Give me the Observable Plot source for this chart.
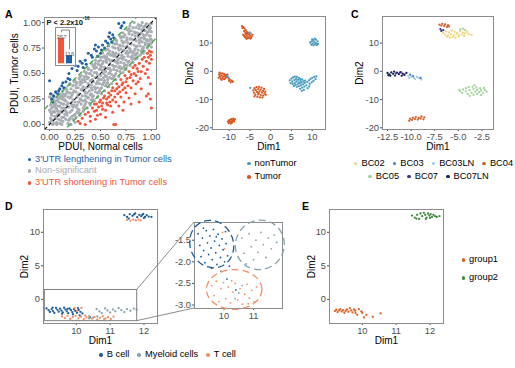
<!DOCTYPE html>
<html><head><meta charset="utf-8">
<script src="https://cdn.jsdelivr.net/npm/d3@7"></script>
<script src="https://cdn.jsdelivr.net/npm/@observablehq/plot@0.6"></script>
<style>
body{margin:0;background:#fff;}
#fig{position:relative;width:515px;height:368px;font-family:"Liberation Sans",Arial,Helvetica,sans-serif;overflow:hidden;background:#fff;}
.lab{position:absolute;font-weight:bold;font-size:10.5px;line-height:1;color:#000;}
.leg{position:absolute;display:flex;font-size:9.3px;line-height:1;white-space:nowrap;color:#000;}
.leg .it{display:flex;align-items:center;}
.leg .d{display:inline-block;width:3.6px;height:3.6px;border-radius:50%;margin-right:4px;}
.pv{position:absolute;font-weight:bold;font-size:7.5px;line-height:1;color:#111;white-space:nowrap;}
.pv sup{font-size:4.6px;position:relative;top:-1px;}
</style></head><body><div id="fig"></div>
<script>
// ---------------- Panel A data (PDUI) ----------------
const aDomain = [-0.05, 1.05];
const aTicks = [0, 0.25, 0.5, 0.75, 1];
const aCutoffs = [0.2, -0.2];
const aLegend = ["3'UTR lengthening in Tumor cells", "Non-significant", "3'UTR shortening in Tumor cells"];
const aColors = ["#1f5fa3", "#a8adb2", "#f2533a"];
const aGray = [
[0.00,0.02],[0.01,0.06],[0.02,0.11],[0.00,0.14],[0.01,0.19],[0.02,0.23],[0.00,0.27],[0.03,0.00],[0.02,0.09],
[0.03,0.04],[0.05,0.08],[0.04,0.13],[0.03,0.17],[0.05,0.21],[0.04,0.25],[0.04,0.01],[0.06,0.16],[0.03,0.29],
[0.07,0.02],[0.06,0.06],[0.08,0.10],[0.07,0.15],[0.06,0.20],[0.08,0.24],[0.07,0.27],[0.09,0.05],[0.06,0.31],
[0.10,0.01],[0.09,0.09],[0.11,0.13],[0.10,0.18],[0.09,0.22],[0.11,0.26],[0.10,0.30],[0.12,0.07],[0.11,0.21],
[0.13,0.03],[0.12,0.12],[0.14,0.16],[0.13,0.20],[0.12,0.25],[0.14,0.29],[0.13,0.33],[0.15,0.10],[0.12,0.00],[0.14,0.24],
[0.16,0.05],[0.15,0.14],[0.17,0.19],[0.16,0.23],[0.15,0.28],[0.17,0.32],[0.16,0.36],[0.18,0.01],[0.17,0.09],[0.18,0.27],
[0.19,0.04],[0.20,0.12],[0.19,0.17],[0.21,0.21],[0.20,0.26],[0.19,0.31],[0.21,0.35],[0.20,0.39],[0.22,0.08],[0.21,0.00],
[0.23,0.05],[0.22,0.14],[0.24,0.19],[0.23,0.24],[0.22,0.29],[0.24,0.33],[0.23,0.38],[0.25,0.10],[0.24,0.42],[0.25,0.02],
[0.26,0.07],[0.27,0.12],[0.26,0.17],[0.28,0.22],[0.27,0.27],[0.26,0.32],[0.28,0.36],[0.27,0.41],[0.29,0.45],[0.28,0.15],
[0.30,0.09],[0.29,0.14],[0.31,0.20],[0.30,0.25],[0.29,0.30],[0.31,0.34],[0.30,0.39],[0.32,0.44],[0.31,0.48],[0.32,0.28],
[0.33,0.13],[0.34,0.18],[0.33,0.23],[0.35,0.28],[0.34,0.33],[0.33,0.37],[0.35,0.42],[0.34,0.47],[0.36,0.51],[0.35,0.20],
[0.37,0.16],[0.36,0.22],[0.38,0.26],[0.37,0.31],[0.36,0.36],[0.38,0.40],[0.37,0.45],[0.39,0.50],[0.38,0.54],[0.39,0.33],
[0.40,0.19],[0.41,0.24],[0.40,0.29],[0.42,0.34],[0.41,0.39],[0.40,0.43],[0.42,0.48],[0.41,0.53],[0.43,0.57],[0.42,0.27],
[0.44,0.23],[0.43,0.28],[0.45,0.32],[0.44,0.37],[0.43,0.42],[0.45,0.46],[0.44,0.51],[0.46,0.56],[0.45,0.60],[0.46,0.40],
[0.47,0.27],[0.48,0.31],[0.47,0.36],[0.49,0.40],[0.48,0.45],[0.47,0.49],[0.49,0.54],[0.48,0.59],[0.50,0.63],[0.49,0.33],
[0.51,0.30],[0.50,0.35],[0.52,0.39],[0.51,0.44],[0.50,0.48],[0.52,0.53],[0.51,0.57],[0.53,0.62],[0.52,0.66],[0.53,0.46],
[0.54,0.33],[0.55,0.38],[0.54,0.43],[0.56,0.47],[0.55,0.52],[0.54,0.56],[0.56,0.61],[0.55,0.65],[0.57,0.69],[0.56,0.40],
[0.58,0.37],[0.57,0.41],[0.59,0.46],[0.58,0.50],[0.57,0.55],[0.59,0.59],[0.58,0.64],[0.60,0.68],[0.59,0.72],[0.60,0.53],
[0.61,0.40],[0.62,0.45],[0.61,0.49],[0.63,0.54],[0.62,0.58],[0.61,0.63],[0.63,0.67],[0.62,0.71],[0.64,0.75],[0.63,0.47],
[0.65,0.44],[0.64,0.48],[0.66,0.53],[0.65,0.57],[0.64,0.62],[0.66,0.66],[0.65,0.70],[0.67,0.75],[0.66,0.79],[0.67,0.60],
[0.68,0.47],[0.69,0.52],[0.68,0.56],[0.70,0.61],[0.69,0.65],[0.68,0.69],[0.70,0.74],[0.69,0.78],[0.71,0.82],[0.70,0.55],
[0.72,0.51],[0.71,0.55],[0.73,0.60],[0.72,0.64],[0.71,0.68],[0.73,0.73],[0.72,0.77],[0.74,0.81],[0.73,0.86],[0.74,0.58],
[0.75,0.54],[0.76,0.58],[0.75,0.63],[0.77,0.67],[0.76,0.72],[0.75,0.76],[0.77,0.80],[0.76,0.85],[0.78,0.89],[0.77,0.70],
[0.79,0.58],[0.78,0.62],[0.80,0.66],[0.79,0.71],[0.78,0.75],[0.80,0.79],[0.79,0.84],[0.81,0.88],[0.80,0.92],[0.81,0.64],
[0.82,0.61],[0.83,0.65],[0.82,0.70],[0.84,0.74],[0.83,0.78],[0.82,0.83],[0.84,0.87],[0.83,0.91],[0.85,0.95],[0.84,0.68],
[0.86,0.65],[0.85,0.69],[0.87,0.73],[0.86,0.77],[0.85,0.82],[0.87,0.86],[0.86,0.90],[0.88,0.94],[0.87,0.98],[0.88,0.80],
[0.89,0.68],[0.90,0.72],[0.89,0.77],[0.91,0.81],[0.90,0.85],[0.89,0.89],[0.91,0.93],[0.90,0.97],[0.92,0.75],[0.91,1.00],
[0.93,0.72],[0.92,0.76],[0.94,0.80],[0.93,0.84],[0.92,0.88],[0.94,0.92],[0.93,0.96],[0.95,0.99],[0.94,0.78],
[0.96,0.75],[0.97,0.79],[0.96,0.83],[0.98,0.87],[0.97,0.91],[0.96,0.95],[0.98,0.98],[0.97,0.82],
[0.99,0.79],[1.00,0.83],[0.99,0.87],[1.00,0.91],[0.99,0.95],[1.00,0.99],[1.00,0.76],
[0.30,0.47],[0.34,0.52],[0.38,0.55],[0.41,0.60],[0.45,0.63],[0.48,0.67],[0.52,0.70],[0.55,0.73],[0.58,0.77],[0.62,0.80],
[0.65,0.83],[0.69,0.87],[0.72,0.90],[0.76,0.93],[0.79,0.97],[0.83,1.00],[0.36,0.50],[0.43,0.58],[0.50,0.66],[0.57,0.74],
[0.64,0.79],[0.71,0.86],[0.78,0.94],[0.25,0.43],[0.20,0.40],
[0.05,0.18],[0.08,0.13],[0.11,0.04],[0.14,0.20],[0.17,0.11],[0.20,0.31],[0.23,0.17],[0.26,0.36],[0.29,0.22],[0.32,0.41],
[0.35,0.31],[0.38,0.46],[0.41,0.36],[0.44,0.55],[0.47,0.42],[0.50,0.58],[0.53,0.50],[0.56,0.66],[0.59,0.55],[0.62,0.69],
[0.66,0.61],[0.69,0.77],[0.73,0.66],[0.76,0.83],[0.80,0.72],[0.84,0.90],[0.88,0.83],[0.92,0.94],[0.95,0.88],[0.02,0.16],
[0.07,0.00],[0.13,0.27],
[0.02,0.04],[0.05,0.12],[0.04,0.20],[0.08,0.18],[0.07,0.08],[0.10,0.11],[0.12,0.16],[0.11,0.28],[0.14,0.07],[0.16,0.13],
[0.15,0.24],[0.18,0.21],[0.17,0.34],[0.20,0.06],[0.22,0.19],[0.21,0.27],[0.24,0.09],[0.23,0.31],[0.25,0.22],[0.27,0.19],
[0.26,0.39],[0.29,0.11],[0.28,0.29],[0.31,0.24],[0.30,0.42],[0.33,0.16],[0.32,0.35],[0.35,0.24],[0.34,0.44],[0.37,0.27],
[0.36,0.47],[0.39,0.21],[0.38,0.37],[0.41,0.30],[0.40,0.50],[0.43,0.24],[0.42,0.44],[0.45,0.35],[0.44,0.58],[0.47,0.31],
[0.46,0.51],[0.49,0.44],[0.48,0.62],[0.51,0.36],[0.50,0.55],[0.53,0.41],[0.52,0.60],[0.55,0.48],[0.54,0.67],[0.57,0.44],
[0.56,0.63],[0.59,0.51],[0.58,0.70],[0.61,0.45],[0.60,0.62],[0.63,0.57],[0.62,0.76],[0.65,0.50],[0.64,0.68],[0.67,0.63],
[0.66,0.82],[0.69,0.57],[0.68,0.73],[0.71,0.66],[0.70,0.85],[0.73,0.56],[0.72,0.80],[0.75,0.70],[0.74,0.88],[0.77,0.61],
[0.76,0.77],[0.79,0.74],[0.78,0.91],[0.81,0.67],[0.80,0.84],[0.83,0.72],[0.82,0.95],[0.85,0.76],[0.84,0.64],[0.87,0.89],
[0.86,0.70],[0.89,0.82],[0.88,0.97],[0.91,0.74],[0.90,0.90],[0.93,0.86],[0.92,0.70],[0.95,0.83],[0.94,0.97],[0.97,0.77],
[0.96,0.90],[0.99,0.84],[0.98,0.93],[1.00,0.80],[0.01,0.12],[0.03,0.26],[0.06,0.23],[0.09,0.26],[0.13,0.30],[0.16,0.30]
];
const aBlue = [
[0.68,0.99],[0.71,0.97],[0.73,1.00],[0.70,0.95],
[0.52,0.78],[0.55,0.82],[0.57,0.80],[0.58,0.86],[0.60,0.84],[0.62,0.88],[0.63,0.85],[0.54,0.75],[0.59,0.90],[0.61,0.81],
[0.38,0.70],[0.41,0.68],[0.44,0.74],[0.46,0.72],[0.48,0.76],[0.50,0.70],[0.42,0.66],[0.47,0.67],[0.51,0.73],[0.45,0.78],
[0.22,0.55],[0.25,0.58],[0.28,0.57],[0.30,0.62],[0.32,0.60],[0.35,0.63],[0.27,0.53],[0.33,0.56],[0.36,0.59],[0.24,0.62],
[0.04,0.28],[0.06,0.32],[0.08,0.30],[0.10,0.35],[0.12,0.38],[0.14,0.36],[0.16,0.42],[0.18,0.45],[0.20,0.44],[0.13,0.41],
[0.19,0.50],[0.09,0.33],[0.00,0.43],[0.02,0.25],[0.01,0.30],[0.03,0.22]
];
const aRed = [
[0.96,0.70],[0.98,0.72],[1.00,0.71],[0.97,0.66],[0.99,0.68],[1.00,0.64],[0.95,0.62],[0.98,0.60],[0.93,0.66],[0.91,0.64],
[0.84,0.58],[0.86,0.55],[0.88,0.60],[0.90,0.52],[0.92,0.57],[0.94,0.50],[0.96,0.54],[0.85,0.48],[0.89,0.45],[0.97,0.46],
[0.99,0.40],[0.87,0.42],
[0.35,0.10],[0.38,0.12],[0.40,0.08],[0.42,0.16],[0.44,0.13],[0.46,0.20],[0.48,0.17],[0.50,0.24],[0.52,0.21],[0.54,0.28],
[0.56,0.25],[0.58,0.31],[0.60,0.29],[0.62,0.36],[0.64,0.33],[0.66,0.40],[0.68,0.37],[0.70,0.44],[0.72,0.41],[0.74,0.48],
[0.76,0.45],[0.78,0.52],[0.80,0.49],[0.82,0.56],
[0.40,0.03],[0.45,0.05],[0.50,0.10],[0.55,0.14],[0.60,0.18],[0.65,0.22],[0.70,0.27],[0.75,0.31],[0.80,0.36],[0.85,0.40],
[0.47,0.09],[0.52,0.15],[0.57,0.19],[0.62,0.24],[0.67,0.30],[0.72,0.34],[0.77,0.38],[0.82,0.43],
[0.55,0.07],[0.62,0.12],[0.68,0.18],[0.73,0.22],[0.78,0.26],[0.84,0.30],[0.90,0.35],[0.95,0.28],[0.88,0.22],[0.80,0.20],
[0.72,0.14],[0.28,0.03],[0.32,0.06],[0.30,0.01],[0.63,0.00],[0.65,0.00],[0.35,0.00],[1.00,0.16],[0.99,0.25],[0.97,0.30],
[0.44,0.20],[0.49,0.22],[0.53,0.26],[0.58,0.27],[0.61,0.33],[0.66,0.35],[0.71,0.39],[0.75,0.42],[0.79,0.46],[0.83,0.50],
[0.87,0.52],[0.69,0.32],[0.74,0.36],[0.59,0.22],[0.64,0.27],[0.46,0.14],[0.51,0.18],[0.56,0.21]
];
const barCats = ["shortening", "lengthening"];
const barCounts = [357, 116];
const bracketY = [445, 470, 205];

// ---------------- Panel B data ----------------
const bCats = ["nonTumor", "Tumor"];
const bColors = ["#4a9dc1", "#d9561f"];
const bTumor = [
[-6.9,16.0],[-6.6,15.6],[-6.3,15.2],[-6.8,15.3],[-6.0,14.6],[-6.4,14.2],[-5.8,14.0],[-6.1,13.5],[-5.5,13.6],[-5.2,13.1],
[-5.9,12.9],[-5.6,12.4],[-5.0,12.6],[-4.6,12.3],[-6.2,12.1],[-5.4,11.8],[-4.9,11.6],[-5.8,11.5],[-6.4,12.6],[-4.4,12.9],
[-5.3,12.0],[-4.7,11.9],[-6.0,11.9],[-5.7,13.2],[-6.6,12.9],
[-12.4,-1.2],[-12.0,-0.8],[-11.6,-0.7],[-11.2,-1.0],[-10.8,-1.3],[-12.2,-1.8],[-11.8,-1.5],[-11.4,-1.9],[-11.0,-1.7],[-10.6,-2.0],
[-12.5,-2.3],[-12.0,-2.6],[-11.6,-2.4],[-11.2,-2.8],[-10.4,-1.2],[-10.1,-2.6],[-9.8,-3.0],[-9.4,-3.3],[-9.1,-3.7],[-9.6,-3.9],
[-10.0,-3.4],[-11.8,-3.0],[-12.3,-0.5],[-10.9,-2.4],
[-3.9,-6.0],[-3.4,-5.6],[-2.8,-5.5],[-2.2,-5.8],[-1.6,-6.2],[-4.2,-6.8],[-3.6,-6.6],[-3.0,-6.3],[-2.4,-6.5],[-1.8,-6.9],
[-1.3,-7.2],[-4.0,-7.6],[-3.3,-7.3],[-2.7,-7.1],[-2.1,-7.5],[-1.5,-7.9],[-3.7,-8.3],[-3.0,-8.1],[-2.4,-8.4],[-1.8,-8.6],
[-3.2,-9.0],[-2.6,-9.2],[-2.0,-9.3],[-3.9,-8.9],[-1.2,-8.3],[-2.9,-7.7],
[-10.3,-17.8],[-10.0,-17.4],[-9.7,-17.1],[-9.4,-16.9],[-9.0,-16.8],[-8.6,-17.0],[-10.1,-18.3],[-9.8,-18.0],[-9.5,-17.7],[-9.2,-17.5],
[-8.9,-17.3],[-9.6,-18.5],[-9.3,-18.2],[-8.8,-17.8]
];
const bNonTumor = [
[9.5,10.2],[9.9,10.6],[10.3,11.0],[10.6,11.6],[10.9,11.2],[11.3,10.6],[10.1,9.8],[10.5,10.3],[10.9,10.0],[11.4,9.7],
[9.8,9.4],[10.3,9.2],[10.7,9.5],[11.1,9.3],[10.0,11.3],
[4.6,-3.2],[5.0,-2.6],[5.4,-2.2],[5.8,-1.9],[6.3,-2.0],[6.8,-2.3],[5.2,-3.6],[5.7,-3.1],[6.1,-2.7],[6.6,-3.0],
[7.1,-2.8],[4.8,-4.2],[5.3,-4.5],[5.8,-4.1],[6.2,-3.6],[6.7,-3.9],[7.2,-3.4],[7.6,-2.9],[5.6,-5.2],[6.0,-4.8],
[6.5,-4.6],[7.0,-4.3],[7.4,-4.0],[7.9,-3.6],[6.3,-5.5],[6.8,-5.3],[7.3,-5.0],[7.8,-4.6],[8.2,-4.1],[7.1,-6.2],
[7.6,-5.8],[8.1,-5.4],[8.6,-5.0],[8.3,-3.3],[8.8,-3.8],[9.2,-3.2],[9.6,-2.7],[10.0,-2.3],[10.5,-2.0],[11.0,-1.8],
[9.4,-4.4],[9.9,-3.9],[10.3,-3.4],[10.8,-2.8],[8.0,-6.6],[8.9,-6.0],[7.5,-6.9],[9.3,-5.3],
[-5.1,13.8],[-4.8,13.4],[-10.5,-1.6],[-10.2,-2.1],[-4.9,-5.9]
];

// ---------------- Panel C data ----------------
const cCats = ["BC02", "BC03", "BC03LN", "BC04", "BC05", "BC07", "BC07LN"];
const cColors = ["#f1d77c", "#3f7fc0", "#a3cbe4", "#d6622b", "#a3d29a", "#43308c", "#15244f"];
const cBC02 = [[-6.6,13.6],[-6.3,14.1],[-6.0,13.8],[-5.7,14.4],[-5.4,14.0],[-5.1,13.6],[-4.8,14.2],[-4.5,13.7],[-6.4,12.9],[-6.1,12.6],
[-5.8,13.1],[-5.5,12.7],[-5.2,13.2],[-4.9,12.8],[-4.6,13.1],[-4.3,13.4],[-6.2,12.2],[-5.6,12.1],[-5.0,12.3],[-4.4,12.5],
[-3.9,13.2],[-3.6,12.9],[-5.9,11.8],[-5.3,11.9],[-4.1,14.0],[-6.8,14.3]];
const cBC03 = [[-10.1,-1.2],[-9.8,-1.7],[-9.0,-2.3]];
const cBC03LN = [[-10.3,-1.6],[-10.0,-2.0],[-9.7,-2.3],[-9.4,-1.9],[-9.1,-2.5],[-8.9,-2.9],[-9.6,-2.8],[-10.2,-2.4],[-9.3,-2.2]];
const cBC04 = [[-7.0,16.5],[-6.7,16.8],[-6.4,16.6],[-6.1,16.3],[-6.8,16.2],[-6.5,16.0],[-6.2,15.7],[-6.0,15.9],
[-10.1,-16.8],[-9.8,-16.4],[-9.5,-16.2],[-9.2,-16.5],[-8.9,-16.0],[-8.6,-16.3],[-9.9,-17.2],[-9.6,-16.9],[-9.3,-17.1],[-9.0,-16.7],
[-8.7,-17.0],[-10.2,-17.5]];
const cBC05 = [[-4.8,14.8],[-4.5,15.1],[-4.3,14.6],
[-4.8,-7.0],[-4.5,-6.4],[-4.2,-6.0],[-3.9,-5.6],[-3.5,-5.5],[-3.1,-5.7],[-2.7,-6.0],[-4.6,-7.6],[-4.2,-7.1],[-3.8,-6.7],
[-3.4,-6.3],[-3.0,-6.5],[-2.6,-6.8],[-2.2,-6.6],[-4.0,-8.0],[-3.6,-7.6],[-3.2,-7.2],[-2.8,-7.4],[-2.4,-7.7],[-2.0,-7.2],
[-3.4,-8.3],[-3.0,-8.0],[-2.6,-8.4],[-3.8,-8.7],[-4.9,-6.6],[-2.3,-5.9],[-3.3,-4.9]];
const cBC07 = [[-6.9,14.9],[-6.6,14.6],[-6.8,14.3],[-11.6,-0.7],[-11.2,-0.5],[-10.8,-1.0]];
const cBC07LN = [[-12.5,-0.6],[-12.3,-1.1],[-12.1,-0.4],[-11.9,-0.9],[-11.7,-1.5],[-11.5,-0.5],[-11.3,-1.0],[-11.1,-0.3],[-10.9,-0.8],
[-10.7,-1.3],[-12.2,-1.6],[-11.8,-0.1],[-11.0,-1.6],[-10.5,-0.6],[-12.4,-1.4]];

// ---------------- Panel D data ----------------
const dCats = ["B cell", "Myeloid cells", "T cell"];
const dColors = ["#1f5c98", "#8aa1ab", "#ee9168"];
const dBcell = [
[11.42,12.55],[11.5,12.3],[11.58,12.7],[11.66,12.45],[11.74,12.8],[11.8,12.25],[11.86,12.6],[11.92,12.4],[11.98,12.75],[12.03,12.3],
[12.08,12.55],[12.14,12.35],[12.22,12.3],[11.7,12.65],[11.95,12.6],[12.0,12.15],[11.55,12.05],
[9.12,-1.35],[9.18,-1.62],[9.22,-1.88],[9.27,-1.45],[9.31,-1.74],[9.35,-2.02],[9.4,-1.28],[9.44,-1.56],[9.48,-1.83],[9.52,-1.4],
[9.56,-1.68],[9.6,-1.95],[9.64,-1.25],[9.68,-1.52],[9.72,-1.79],[9.76,-2.06],[9.8,-1.36],[9.84,-1.62],[9.88,-1.9],[9.93,-1.47],
[9.97,-1.72],[10.02,-2.0],[10.07,-1.58],[10.12,-1.86],[10.18,-2.1],[9.9,-2.22],[9.58,-2.15],[9.3,-1.22],[10.05,-1.3],[9.74,-1.42],
[10.4,-2.65],[10.1,-2.4]
];
const dMyeloid = [
[10.6,-1.45],[10.68,-1.8],[10.75,-2.05],[10.85,-1.35],[10.92,-1.65],[11.0,-1.95],[11.08,-1.5],[11.15,-1.78],[11.25,-1.32],[11.33,-1.6],
[11.42,-1.9],[11.5,-1.45],[11.6,-1.7],[11.7,-1.38],[11.78,-1.55],[10.5,-2.72],[10.62,-2.55],[10.38,-2.85]
];
const dTcell = [
[11.5,11.85],[11.6,11.75],[11.68,11.9],[11.76,11.8],[11.84,11.9],[11.9,11.75],
[9.58,-2.55],[9.66,-2.78],[9.74,-2.45],[9.82,-2.92],[9.9,-2.62],[9.98,-2.48],[10.06,-2.85],[10.14,-2.58],[10.22,-2.95],[10.3,-2.7],
[10.38,-2.5],[10.46,-2.88],[10.54,-2.62],[10.62,-2.98],[10.7,-2.75],[10.78,-2.52],[10.86,-2.84],[10.94,-2.66],[11.02,-2.93],[11.1,-2.58],
[10.26,-2.44],[10.82,-2.97],[9.95,-1.32],[10.15,-1.28],[10.02,-1.7]
];
const dZoom = [{x1: 9.07, x2: 11.8, y1: -3.25, y2: 1.4}];
const dEllipses = [
  {cat: "B cell", cx: 9.6, cy: -1.6, rx: 0.73, ry: 0.56, angle: -25},
  {cat: "Myeloid cells", cx: 11.23, cy: -1.62, rx: 0.82, ry: 0.58, angle: 35},
  {cat: "T cell", cx: 10.36, cy: -2.65, rx: 0.94, ry: 0.46, angle: 0}
];

// ---------------- Panel E data ----------------
const eCats = ["group1", "group2"];
const eColors = ["#d8621f", "#3e8a3e"];
const eGroup1 = [
[9.19,-1.75],[9.23,-1.55],[9.27,-1.9],[9.31,-1.65],[9.35,-1.45],[9.39,-1.8],[9.43,-1.6],[9.47,-2.0],[9.51,-1.7],[9.55,-1.5],
[9.59,-1.85],[9.63,-1.3],[9.67,-1.65],[9.71,-1.95],[9.75,-1.5],[9.79,-1.7],[9.85,-2.3],[9.97,-1.8],[10.12,-2.3],[10.05,-2.7],
[10.31,-2.6],[10.54,-2.1],[9.8,-2.05],[9.9,-1.45],[10.0,-2.0]
];
const eGroup2 = [
[11.47,12.5],[11.55,12.2],[11.62,12.6],[11.68,12.0],[11.72,12.8],[11.77,12.4],[11.82,12.9],[11.86,12.6],[11.9,12.2],[11.94,12.8],
[11.98,12.5],[12.02,12.7],[12.06,12.3],[12.1,12.6],[12.15,12.4],[12.2,12.3],[12.28,12.4],[11.6,12.05],[11.88,12.0],[12.0,12.15]
];

// ---------------- helpers ----------------
const fig = document.getElementById("fig");
const FONT = '"Liberation Sans", Arial, Helvetica, sans-serif';
const base = {fontFamily: FONT, fontSize: "9.3px", color: "#4d4d4d", background: "transparent", overflow: "visible"};
const FRAME = "#8c8c8c";
const px = d => d[0], py = d => d[1];
function place(node, left, top) {
  node.style.position = "absolute"; node.style.left = left + "px"; node.style.top = top + "px";
  fig.appendChild(node); return node;
}
function titles(xt, yt, dy, dx) {
  return [
    Plot.text([xt], {text: d => d, frameAnchor: "bottom", dy, textAnchor: "middle", lineAnchor: "middle", fill: "#000", fontSize: 10}),
    Plot.text([yt], {text: d => d, frameAnchor: "left", dx, rotate: -90, textAnchor: "middle", lineAnchor: "middle", fill: "#000", fontSize: 10})
  ];
}
const axisOpts = {tickSize: 2, tickPadding: 1.5, label: null};
function legend(items, colors, opts) {
  const div = document.createElement("div");
  div.className = "leg";
  const st = {left: opts.left + "px", top: opts.top + "px"};
  if (opts.width) st.width = opts.width + "px";
  st.flexDirection = opts.column ? "column" : "row";
  st.justifyContent = opts.column ? "flex-start" : "center";
  st.gap = (opts.gap || 0) + "px";
  Object.assign(div.style, st);
  items.forEach((t, i) => {
    const it = document.createElement("span");
    it.className = "it";
    it.style.height = (opts.rowH || 12) + "px";
    const c = colors[i];
    it.innerHTML = `<span class="d" style="background:${c}"></span><span style="color:${opts.colored ? c : "#000"}">${t}</span>`;
    div.appendChild(it);
  });
  fig.appendChild(div);
}
function label(t, left, top) {
  const d = document.createElement("div"); d.className = "lab"; d.textContent = t;
  d.style.left = left + "px"; d.style.top = top + "px"; fig.appendChild(d);
}

// ---------------- Panel A ----------------
const aLines = [0].concat(aCutoffs).map(b => ({b, x1: aDomain[0], y1: aDomain[0] + b, x2: aDomain[1], y2: aDomain[1] + b}));
const plotA = Plot.plot({
  width: 160, height: 155, marginLeft: 44, marginRight: 4, marginTop: 17, marginBottom: 26,
  style: base,
  x: {domain: aDomain, ticks: aTicks, tickFormat: d => d.toFixed(2), ...axisOpts},
  y: {domain: aDomain, ticks: aTicks, tickFormat: d => d.toFixed(2), ...axisOpts},
  marks: [
    Plot.dot(aGray, {x: px, y: py, r: 1.6, fill: aColors[1]}),
    Plot.dot(aRed, {x: px, y: py, r: 1.5, fill: aColors[2]}),
    Plot.dot(aBlue, {x: px, y: py, r: 1.5, fill: aColors[0]}),
    Plot.link(aLines.filter(l => l.b !== 0), {x1: "x1", y1: "y1", x2: "x2", y2: "y2", stroke: "#4fa84f", strokeWidth: 1.4, strokeDasharray: "5,3", clip: true}),
    Plot.link(aLines.filter(l => l.b === 0), {x1: "x1", y1: "y1", x2: "x2", y2: "y2", stroke: "#111", strokeWidth: 1.2, strokeDasharray: "3.5,2.5", clip: true}),
    Plot.frame({stroke: FRAME}),
    ...titles("PDUI, Normal cells", "PDUI, Tumor cells", 17, -30)
  ]
});
place(plotA, 0, 0);

const bars = barCats.map((c, i) => ({cat: c, n: barCounts[i]}));
const bracket = [
  {cat: barCats[0], v: bracketY[0]}, {cat: barCats[0], v: bracketY[1]},
  {cat: barCats[1], v: bracketY[1]}, {cat: barCats[1], v: bracketY[2]}
];
const plotBar = Plot.plot({
  width: 20, height: 38, margin: 0,
  style: {...base, background: "white"},
  x: {domain: barCats, axis: null, paddingInner: 0.26, paddingOuter: 0.3},
  y: {domain: [-24, 506], axis: null},
  color: {domain: barCats, range: [aColors[2], aColors[0]]},
  marks: [
    Plot.barY(bars, {x: "cat", y: "n", fill: "cat"}),
    Plot.text(bars, {x: "cat", y: "n", text: d => String(d.n), lineAnchor: "bottom", dy: 0.5, fontSize: 6, fill: "#666"}),
    Plot.line(bracket, {x: "cat", y: "v", stroke: "#555", strokeWidth: 0.7}),
    Plot.frame({stroke: FRAME})
  ]
});
place(plotBar, 55, 27);
const pv = document.createElement("div"); pv.className = "pv";
pv.innerHTML = "P &lt; 2.2x10<sup>-16</sup>";
pv.style.left = "46.5px"; pv.style.top = "18px"; fig.appendChild(pv);
legend(aLegend, aColors, {left: 27.5, top: 153.5, column: true, rowH: 11.7, colored: true});

// ---------------- Panel B ----------------
const plotB = Plot.plot({
  width: 160, height: 155, marginLeft: 42, marginRight: 5, marginTop: 16, marginBottom: 26,
  style: base,
  x: {domain: [-14.0, 13.2], ticks: [-10, -5, 0, 5, 10], tickFormat: d => String(d), ...axisOpts},
  y: {domain: [-20.6, 19.4], ticks: [-20, -10, 0, 10], tickFormat: d => String(d), ...axisOpts},
  marks: [
    Plot.dot(bTumor, {x: px, y: py, r: 1.15, fill: bColors[1]}),
    Plot.dot(bNonTumor, {x: px, y: py, r: 1.15, fill: bColors[0]}),
    Plot.frame({stroke: FRAME}),
    ...titles("Dim1", "Dim2", 17.7, -23)
  ]
});
place(plotB, 170, 0);
legend(bCats, bColors, {left: 247, top: 156.5, column: true, rowH: 13.7});

// ---------------- Panel C ----------------
const cSeries = [cBC02, cBC03, cBC03LN, cBC04, cBC05, cBC07, cBC07LN];
const cOrder = [0, 4, 3, 2, 1, 6, 5];
const plotC = Plot.plot({
  width: 158, height: 155, marginLeft: 42, marginRight: 5, marginTop: 16, marginBottom: 26,
  style: base,
  x: {domain: [-13.03, -1.28], ticks: [-12.5, -10, -7.5, -5, -2.5], tickFormat: d => d.toFixed(1), ...axisOpts},
  y: {domain: [-20.6, 19.4], ticks: [-20, -10, 0, 10], tickFormat: d => String(d), ...axisOpts},
  marks: [
    ...cOrder.map(i => Plot.dot(cSeries[i], {x: px, y: py, r: 1.15, fill: cColors[i]})),
    Plot.frame({stroke: FRAME}),
    ...titles("Dim1", "Dim2", 17.7, -23)
  ]
});
place(plotC, 340, 0);
legend(cCats.slice(0, 4), cColors.slice(0, 4), {left: 352, width: 163, top: 157.3, gap: 8, rowH: 12});
legend(cCats.slice(4), cColors.slice(4), {left: 347, width: 163, top: 170.7, gap: 8, rowH: 12});

// ---------------- Panel D ----------------
const dSeries = [dBcell, dMyeloid, dTcell];
const plotD = Plot.plot({
  width: 160, height: 165, marginLeft: 43, marginRight: 3, marginTop: 19, marginBottom: 32,
  style: base,
  x: {domain: [9.03, 12.4], ticks: [10, 11, 12], tickFormat: d => String(d), ...axisOpts},
  y: {domain: [-3.6, 13.4], ticks: [0, 5, 10], tickFormat: d => String(d), ...axisOpts},
  marks: [
    ...dSeries.map((s, i) => Plot.dot(s, {x: px, y: py, r: 1.15, fill: dColors[i]})),
    Plot.rect(dZoom, {x1: "x1", x2: "x2", y1: "y1", y2: "y2", fill: "none", stroke: "#7f7f7f", strokeWidth: 1}),
    Plot.frame({stroke: FRAME}),
    ...titles("Dim1", "Dim2", 17.7, -19)
  ]
});
place(plotD, 0, 190);

function ellipseMark(data) {
  return (index, scales) => {
    const g = d3.create("svg:g");
    for (const e of data) {
      const cx = scales.x(e.cx), cy = scales.y(e.cy);
      const rx = Math.abs(scales.x(e.cx + e.rx) - cx), ry = Math.abs(scales.y(e.cy + e.ry) - cy);
      g.append("ellipse").attr("cx", cx).attr("cy", cy).attr("rx", rx).attr("ry", ry)
        .attr("transform", `rotate(${e.angle},${cx},${cy})`)
        .attr("fill", "none").attr("stroke", dColors[dCats.indexOf(e.cat)])
        .attr("stroke-width", 1.3).attr("stroke-dasharray", "7,4");
    }
    return g.node();
  };
}
const inset = {left: 170, top: 215, width: 114, height: 117, ml: 24, mr: 2, mt: 7, mb: 24};
const plotDi = Plot.plot({
  width: inset.width, height: inset.height, marginLeft: inset.ml, marginRight: inset.mr, marginTop: inset.mt, marginBottom: inset.mb,
  style: base,
  x: {domain: [9.0, 11.98], ticks: [10, 11], tickFormat: d => String(d), ...axisOpts},
  y: {domain: [-3.08, -1.09], ticks: [-1.5, -2, -2.5, -3], tickFormat: d => d.toFixed(1), ...axisOpts},
  marks: [
    ...dSeries.map((s, i) => Plot.dot(s, {x: px, y: py, r: 0.9, fill: dColors[i], clip: true})),
    Plot.frame({stroke: FRAME}),
    ellipseMark(dEllipses)
  ]
});
place(plotDi, inset.left, inset.top);

// connecting lines from zoom box to inset
{
  const sx = plotD.scale("x"), sy = plotD.scale("y");
  const bx = 0 + sx.apply(dZoom[0].x2);
  const byTop = 190 + sy.apply(dZoom[0].y2), byBot = 190 + sy.apply(dZoom[0].y1);
  const ix = inset.left + inset.ml, iyTop = inset.top + inset.mt, iyBot = inset.top + inset.height - inset.mb;
  const ov = d3.create("svg").attr("width", 515).attr("height", 368)
    .style("position", "absolute").style("left", "0px").style("top", "0px").style("pointer-events", "none");
  ov.append("line").attr("x1", bx).attr("y1", byTop).attr("x2", ix).attr("y2", iyTop).attr("stroke", "#7f7f7f").attr("stroke-width", 0.9);
  ov.append("line").attr("x1", bx).attr("y1", byBot).attr("x2", ix).attr("y2", iyBot).attr("stroke", "#7f7f7f").attr("stroke-width", 0.9);
  fig.appendChild(ov.node());
}
legend(dCats, dColors, {left: 60, width: 215, top: 349, gap: 8, rowH: 12});

// ---------------- Panel E ----------------
const eSeries = [eGroup1, eGroup2];
const plotE = Plot.plot({
  width: 160, height: 165, marginLeft: 43, marginRight: 3, marginTop: 19, marginBottom: 32,
  style: base,
  x: {domain: [9.03, 12.4], ticks: [10, 11, 12], tickFormat: d => String(d), ...axisOpts},
  y: {domain: [-3.6, 13.4], ticks: [0, 5, 10], tickFormat: d => String(d), ...axisOpts},
  marks: [
    ...eSeries.map((s, i) => Plot.dot(s, {x: px, y: py, r: 1.15, fill: eColors[i]})),
    Plot.frame({stroke: FRAME}),
    ...titles("Dim1", "Dim2", 17.7, -18)
  ]
});
place(plotE, 286, 190);
legend(eCats, eColors, {left: 461.5, top: 251, column: true, rowH: 18});

// ---------------- panel labels ----------------
label("A", 5, 9); label("B", 182, 9); label("C", 351, 9); label("D", 5, 201); label("E", 302, 201);
</script></body></html>
